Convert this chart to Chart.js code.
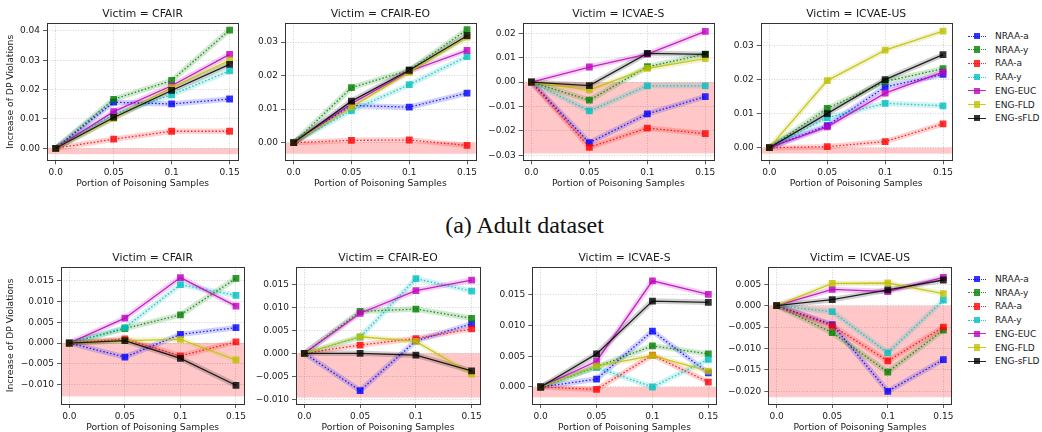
<!DOCTYPE html>
<html>
<head>
<meta charset="utf-8">
<script src="https://cdn.jsdelivr.net/npm/chart.js@4.4.0/dist/chart.umd.min.js"></script>
<style>
  body { margin: 0; background: #fff; width: 1042px; height: 432px; overflow: hidden; position: relative; font-family: "DejaVu Sans", sans-serif; }
  canvas { position: absolute; }
  .caption { position: absolute; left: 424px; width: 201px; top: 213px; line-height: 24px; text-align: center;
             font-family: "Liberation Serif", "Times New Roman", serif; font-size: 24px; color: #111; }
  .legend { position: absolute; left: 968px; width: 74px; height: 100px; }
  .item { position: absolute; left: 0; width: 74px; height: 12px; }
  .ln { position: absolute; left: 0; top: 5.5px; width: 18px; height: 0; }
  .mk { position: absolute; left: 5.8px; top: 2.8px; width: 6.5px; height: 6.5px; }
  .tx { position: absolute; left: 27px; top: 0; line-height: 12px; font-size: 9px; color: #1a1a1a; white-space: nowrap; }
</style>
</head>
<body>
<canvas id="a1"></canvas><canvas id="a2"></canvas><canvas id="a3"></canvas><canvas id="a4"></canvas>
<div class="caption">(a) Adult dataset</div>
<canvas id="b1"></canvas><canvas id="b2"></canvas><canvas id="b3"></canvas><canvas id="b4"></canvas>
<div class="legend" id="legend1" style="top:30px"></div>
<div class="legend" id="legend2" style="top:273px"></div>
<script>
// Axes communs
var xValues = [0, 0.05, 0.1, 0.15];
var xTickLabels = ['0.0', '0.05', '0.1', '0.15'];
var seriesNames = ['NRAA-a', 'NRAA-y', 'RAA-a', 'RAA-y', 'ENG-EUC', 'ENG-FLD', 'ENG-sFLD'];
var seriesColors = ['0, 0, 255', '0, 128, 0', '255, 0, 0', '0, 191, 191', '191, 0, 191', '191, 191, 0', '0, 0, 0'];
var seriesDotted = [true, true, true, true, false, false, false];

// Ligne 1 : Adult dataset (une ligne par série, dans l'ordre de seriesNames)
var adultCFAIR = [
  [0, 0.0157, 0.0151, 0.0168],
  [0, 0.0167, 0.0231, 0.0403],
  [0, 0.0031, 0.0058, 0.0058],
  [0, 0.0115, 0.0182, 0.0264],
  [0, 0.0125, 0.0213, 0.0320],
  [0, 0.0102, 0.0207, 0.0300],
  [0, 0.0105, 0.0197, 0.0286]
];
var adultCFAIREO = [
  [0, 0.0111, 0.0106, 0.0148],
  [0, 0.0164, 0.0216, 0.0337],
  [0, 0.0007, 0.0008, -0.0008],
  [0, 0.0096, 0.0173, 0.0257],
  [0, 0.0116, 0.0213, 0.0275],
  [0, 0.0106, 0.0210, 0.0315],
  [0, 0.0124, 0.0216, 0.0319]
];
var adultICVAES = [
  [0, -0.0248, -0.0130, -0.0059],
  [0, -0.0074, 0.0063, 0.0115],
  [0, -0.0267, -0.0188, -0.0211],
  [0, -0.0118, -0.0015, -0.0015],
  [0, 0.0062, 0.0115, 0.0208],
  [0, -0.0032, 0.0056, 0.0096],
  [0, -0.0014, 0.0118, 0.0114]
];
var adultICVAEUS = [
  [0, 0.0065, 0.0178, 0.0215],
  [0, 0.0115, 0.0194, 0.0232],
  [0, 0.0003, 0.0018, 0.0070],
  [0, 0.0088, 0.0130, 0.0123],
  [0, 0.0061, 0.0160, 0.0222],
  [0, 0.0197, 0.0286, 0.0342],
  [0, 0.0100, 0.0200, 0.0273]
];

// Ligne 2
var row2CFAIR = [
  [0, -0.0034, 0.0021, 0.0037],
  [0, 0.0035, 0.0068, 0.0156],
  [0, 0.0010, -0.0031, 0.0003],
  [0, 0.0037, 0.0141, 0.0115],
  [0, 0.0060, 0.0158, 0.0089],
  [0, 0.0006, 0.0009, -0.0041],
  [0, 0.0006, -0.0037, -0.0102]
];
var row2CFAIREO = [
  [0, -0.0081, 0.0027, 0.0064],
  [0, 0.0091, 0.0096, 0.0076],
  [0, 0.0018, 0.0032, 0.0053],
  [0, 0.0035, 0.0162, 0.0135],
  [0, 0.0087, 0.0136, 0.0159],
  [0, 0.0036, 0.0026, -0.0045],
  [0, 0.0000, -0.0004, -0.0038]
];
var row2ICVAES = [
  [0, 0.0013, 0.0091, 0.0023],
  [0, 0.0033, 0.0067, 0.0054],
  [0, -0.0004, 0.0052, 0.0008],
  [0, 0.0032, 0.0000, 0.0045],
  [0, 0.0042, 0.0173, 0.0151],
  [0, 0.0034, 0.0051, 0.0026],
  [0, 0.0054, 0.0140, 0.0138]
];
var row2ICVAEUS = [
  [0, -0.0044, -0.0200, -0.0126],
  [0, -0.0063, -0.0155, -0.0057],
  [0, -0.0047, -0.0129, -0.0050],
  [0, -0.0014, -0.0110, 0.0013],
  [0, 0.0038, 0.0033, 0.0066],
  [0, 0.0052, 0.0053, 0.0028],
  [0, 0.0014, 0.0037, 0.0060]
];

// Graduations et limites des axes y
var adultYTicks = [[0, 0.01, 0.02, 0.03, 0.04], [0, 0.01, 0.02, 0.03], [-0.03, -0.02, -0.01, 0, 0.01, 0.02], [0, 0.01, 0.02, 0.03]];
var adultYRange = [[-0.0041, 0.0426], [-0.00525, 0.0356], [-0.032, 0.0241], [-0.0037, 0.0365]];
var adultBandBottom = [-0.002, -0.0033, -0.0292, -0.00175];
var row2YTicks = [[-0.01, -0.005, 0, 0.005, 0.01, 0.015], [-0.01, -0.005, 0, 0.005, 0.01, 0.015], [0, 0.005, 0.01, 0.015], [-0.02, -0.015, -0.01, -0.005, 0, 0.005]];
var row2YRange = [[-0.01472, 0.01843], [-0.011, 0.0188], [-0.00277, 0.0196], [-0.02297, 0.00911]];
var row2BandBottom = [-0.01288, -0.0096, -0.00168, -0.02139];

var FONT = 'DejaVu Sans';
var TEXT = '#1a1a1a';

function fmt(v, dec) {
  return v.toFixed(dec).replace('-', '\u2212');
}

// Titre centré sur la zone de tracé, cadre et bande rouge
function decorPlugin(title, bandBottom) {
  return {
    id: 'decor',
    beforeDatasetsDraw: function(chart) {
      var ca = chart.chartArea, y = chart.scales.y;
      var ctx = chart.ctx;
      ctx.save();
      ctx.fillStyle = 'rgba(255, 0, 0, 0.22)';
      var y0 = y.getPixelForValue(0), y1 = y.getPixelForValue(bandBottom);
      ctx.fillRect(ca.left, y0, ca.right - ca.left, y1 - y0);
      ctx.restore();
    },
    afterDraw: function(chart) {
      var ca = chart.chartArea, ctx = chart.ctx;
      ctx.save();
      ctx.strokeStyle = '#333';
      ctx.lineWidth = 1;
      ctx.strokeRect(Math.round(ca.left) + 0.5, Math.round(ca.top) + 0.5, Math.round(ca.right - ca.left), Math.round(ca.bottom - ca.top));
      ctx.fillStyle = TEXT;
      ctx.font = '10.8px "' + FONT + '"';
      ctx.textAlign = 'center';
      ctx.textBaseline = 'middle';
      ctx.fillText(title, (ca.left + ca.right) / 2, ca.top - 9);
      ctx.restore();
    }
  };
}

function createChart(id, geo, title, data, yTicks, yRange, bandBottom, decimals, showYLabel) {
  var canvas = document.getElementById(id);
  canvas.width = geo.width;
  canvas.height = geo.height;
  canvas.style.left = geo.left + 'px';
  canvas.style.top = geo.top + 'px';

  var datasets = [];
  data.forEach(function(vals, i) {
    var c = seriesColors[i];
    var points = xValues.map(function(x, j) { return {x: x, y: vals[j]}; });
    datasets.push({
      label: seriesNames[i],
      data: points,
      borderColor: 'rgba(' + c + ', 0.85)',
      backgroundColor: 'rgba(' + c + ', 0.8)',
      borderWidth: 1.3,
      borderDash: seriesDotted[i] ? [1.5, 2] : [],
      pointStyle: 'rect',
      pointRadius: 4.8,
      pointBorderWidth: 0,
      order: 20 - i
    });
    // halo translucide, façon bande d'incertitude
    datasets.push({
      label: seriesNames[i] + ' band',
      data: points,
      borderColor: 'rgba(' + c + ', 0.18)',
      borderWidth: 5.5,
      pointRadius: 0,
      order: 40 - i
    });
  });

  var grid = {
    color: 'rgba(150, 150, 150, 0.55)',
    lineWidth: 0.8,
    tickColor: '#333',
    tickLength: 4,
    tickWidth: 0.8,
    tickBorderDash: []
  };

  new Chart(canvas.getContext('2d'), {
    type: 'line',
    data: {datasets: datasets},
    plugins: [decorPlugin(title, bandBottom)],
    options: {
      responsive: false,
      animation: false,
      devicePixelRatio: 1,
      layout: {padding: {top: geo.plotTop - geo.top, right: geo.left + geo.width - geo.plotRight, left: 0, bottom: 0}},
      plugins: {legend: {display: false}, tooltip: {enabled: false}},
      scales: {
        x: {
          type: 'linear',
          min: -0.0075,
          max: 0.1575,
          afterBuildTicks: function(s) { s.ticks = xValues.map(function(v) { return {value: v}; }); },
          afterFit: function(s) { s.height = geo.top + geo.height - geo.plotBottom; },
          ticks: {
            autoSkip: false, maxRotation: 0, padding: 3, color: TEXT,
            font: {family: FONT, size: 9},
            callback: function(v, i) { return xTickLabels[i]; }
          },
          grid: grid,
          border: {display: false, dash: [1, 1.6]},
          title: {display: true, text: 'Portion of Poisoning Samples', color: TEXT, padding: 0,
                  font: {family: FONT, size: 9.2, lineHeight: 1}}
        },
        y: {
          min: yRange[0],
          max: yRange[1],
          afterBuildTicks: function(s) { s.ticks = yTicks.map(function(v) { return {value: v}; }); },
          afterFit: function(s) { s.width = geo.plotLeft - geo.left; },
          ticks: {
            padding: 3, color: TEXT,
            font: {family: FONT, size: 9},
            callback: function(v) { return fmt(v, decimals); }
          },
          grid: grid,
          border: {display: false, dash: [1, 1.6]},
          title: {display: showYLabel, text: 'Increase of DP Violations', color: TEXT,
                  padding: {top: 6.5, bottom: 0}, font: {family: FONT, size: 9.2, lineHeight: 1}}
        }
      }
    }
  });
}

function buildLegend(elId) {
  var el = document.getElementById(elId);
  seriesNames.forEach(function(name, i) {
    var c = seriesColors[i];
    var item = document.createElement('div');
    item.className = 'item';
    item.style.top = (i * 13.7) + 'px';
    item.innerHTML =
      '<span class="ln" style="border-top:1.3px ' + (seriesDotted[i] ? 'dotted' : 'solid') + ' rgba(' + c + ',0.85)"></span>' +
      '<span class="mk" style="background:rgba(' + c + ',0.8)"></span>' +
      '<span class="tx">' + name + '</span>';
    el.appendChild(item);
  });
}

// Positions des panneaux
var row1 = {top: 0, height: 188, plotTop: 23.3, plotBottom: 160.3};
var row2 = {top: 240, height: 192, plotTop: 266.7, plotBottom: 404};
function geo(row, left, width, plotLeft, plotRight) {
  return {top: row.top, height: row.height, plotTop: row.plotTop, plotBottom: row.plotBottom,
          left: left, width: width, plotLeft: plotLeft, plotRight: plotRight};
}

window.addEventListener('load', function() {
  createChart('a1', geo(row1, 0, 245, 47, 238.3), 'Victim = CFAIR', adultCFAIR, adultYTicks[0], adultYRange[0], adultBandBottom[0], 2, true);
  createChart('a2', geo(row1, 252, 230, 285, 475.7), 'Victim = CFAIR-EO', adultCFAIREO, adultYTicks[1], adultYRange[1], adultBandBottom[1], 2, false);
  createChart('a3', geo(row1, 486, 235, 522.7, 714), 'Victim = ICVAE-S', adultICVAES, adultYTicks[2], adultYRange[2], adultBandBottom[2], 2, false);
  createChart('a4', geo(row1, 724, 235, 760.7, 951.7), 'Victim = ICVAE-US', adultICVAEUS, adultYTicks[3], adultYRange[3], adultBandBottom[3], 2, false);

  createChart('b1', geo(row2, 0, 251, 61, 244.3), 'Victim = CFAIR', row2CFAIR, row2YTicks[0], row2YRange[0], row2BandBottom[0], 3, true);
  createChart('b2', geo(row2, 256, 231, 296, 480), 'Victim = CFAIR-EO', row2CFAIREO, row2YTicks[1], row2YRange[1], row2BandBottom[1], 3, false);
  createChart('b3', geo(row2, 494, 230, 532.3, 716.7), 'Victim = ICVAE-S', row2ICVAES, row2YTicks[2], row2YRange[2], row2BandBottom[2], 3, false);
  createChart('b4', geo(row2, 727, 232, 768.3, 951.7), 'Victim = ICVAE-US', row2ICVAEUS, row2YTicks[3], row2YRange[3], row2BandBottom[3], 3, false);

  buildLegend('legend1');
  buildLegend('legend2');
});
</script>
</body>
</html>
